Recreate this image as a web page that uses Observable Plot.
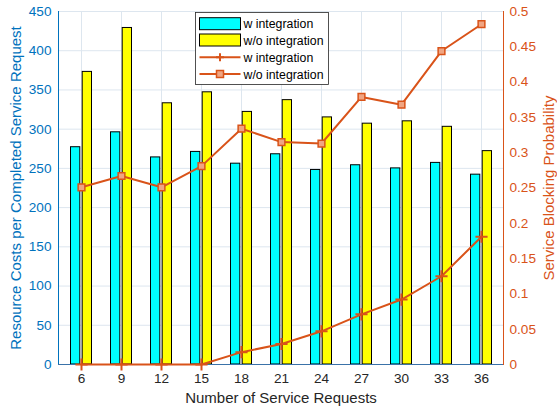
<!DOCTYPE html>
<html><head><meta charset="utf-8">
<script src="https://cdn.jsdelivr.net/npm/d3@7"></script>
<script src="https://cdn.jsdelivr.net/npm/@observablehq/plot@0.6"></script>
<style>
body{margin:0;background:#fff;}
#chart{position:relative;width:557px;height:407px;background:#fff;}
#chart svg{position:absolute;left:0;top:0;}
</style></head><body><div id="chart"></div>
<script>
// ---- data ----
const requests = [6, 9, 12, 15, 18, 21, 24, 27, 30, 33, 36];
const costWith = [277, 296, 264, 271, 256, 268, 248, 254, 250, 257, 242];
const costWithout = [373, 429, 333, 347, 322, 337, 315, 307, 310, 303, 272];
const blockWith = [0, 0, 0, 0, 0.0175, 0.029, 0.047, 0.071, 0.092, 0.125, 0.181];
const blockWithout = [0.251, 0.267, 0.251, 0.281, 0.334, 0.315, 0.313, 0.379, 0.368, 0.444, 0.482];
const leftTicks = [0, 50, 100, 150, 200, 250, 300, 350, 400, 450];
const rightTicks = [0, 0.05, 0.1, 0.15, 0.2, 0.25, 0.3, 0.35, 0.4, 0.45, 0.5];
const legendLabels = ["w integration", "w/o integration", "w integration", "w/o integration"];
const xLabel = "Number of Service Requests";
const yLeftLabel = "Resource Costs per Completed Service Request";
const yRightLabel = "Service Blocking Probability";

const BLUE = "#0072BD", ORANGE = "#D95319", DARK = "#262626", GRID = "#dde6ef";
const W = 557, H = 407;
const margins = {marginLeft: 58, marginRight: 54, marginTop: 11, marginBottom: 43};
const font = "'Liberation Sans', Arial, Helvetica, sans-serif";

const rows = requests.map((n, i) => ({n, cw: costWith[i], cwo: costWithout[i], bw: blockWith[i], bwo: blockWithout[i]}));

const p1 = Plot.plot({
  width: W, height: H, ...margins,
  style: {fontFamily: font, fontSize: "13.6px", background: "transparent", overflow: "visible"},
  x: {type: "band", domain: requests, padding: 0},
  y: {domain: [0, 450]},
  marks: [
    Plot.gridY(leftTicks, {stroke: GRID, strokeOpacity: 1}),
    Plot.gridX(requests, {stroke: GRID, strokeOpacity: 1}),
    Plot.rectY(rows, {x: "n", y1: 0, y2: "cw", fill: "#00FFFF", stroke: "#000", strokeWidth: 1, insetLeft: 9.5, insetRight: 21.2}),
    Plot.rectY(rows, {x: "n", y1: 0, y2: "cwo", fill: "#FFFF00", stroke: "#000", strokeWidth: 1, insetLeft: 21.2, insetRight: 9.5}),
    Plot.axisY(leftTicks, {anchor: "left", color: BLUE, tickSize: 0, tickPadding: 7, fontSize: 13.6, label: null}),
    Plot.axisX(requests, {anchor: "bottom", color: DARK, tickSize: 0, tickPadding: 9, fontSize: 13.6, label: null}),
    Plot.text([yLeftLabel], {frameAnchor: "left", textAnchor: "middle", lineAnchor: "middle", rotate: -90, dx: -42, fontSize: 15, fill: BLUE}),
    Plot.text([xLabel], {frameAnchor: "bottom", textAnchor: "middle", lineAnchor: "middle", dy: 34, fontSize: 15, fill: DARK}),
    Plot.frame({anchor: "left", stroke: BLUE}),
    Plot.frame({anchor: "bottom", stroke: "#3a72a8"})
  ]
});

const p2 = Plot.plot({
  width: W, height: H, ...margins,
  style: {fontFamily: font, fontSize: "13.6px", background: "transparent", overflow: "visible"},
  x: {type: "band", domain: requests, padding: 0, axis: null},
  y: {domain: [0, 0.5]},
  marks: [
    Plot.line(rows, {x: "n", y: "bw", stroke: ORANGE, strokeWidth: 2}),
    Plot.line(rows, {x: "n", y: "bwo", stroke: ORANGE, strokeWidth: 2}),
    Plot.dot(rows, {x: "n", y: "bw", symbol: "plus", stroke: ORANGE, strokeWidth: 2, r: 4}),
    Plot.dot(rows, {x: "n", y: "bwo", symbol: "square", stroke: ORANGE, fill: "#f0a582", strokeWidth: 1.5, r: 3.8}),
    Plot.axisY(rightTicks, {anchor: "right", color: ORANGE, tickSize: 0, tickPadding: 6, fontSize: 13.6,
      tickFormat: d => String(+d.toFixed(2)), label: null}),
    Plot.text([yRightLabel], {frameAnchor: "right", textAnchor: "middle", lineAnchor: "middle", rotate: -90, dx: 46, fontSize: 15, fill: ORANGE}),
    Plot.frame({anchor: "right", stroke: ORANGE})
  ]
});

const chart = document.getElementById("chart");
chart.appendChild(p1);
chart.appendChild(p2);

// legend
const svg = d3.select(p2);
const lg = svg.append("g").attr("font-family", font).attr("font-size", 12.3).attr("text-anchor", "start");
lg.append("rect").attr("x", 195.5).attr("y", 12.5).attr("width", 133).attr("height", 72)
  .attr("fill", "#fff").attr("stroke", DARK).attr("stroke-width", 0.8);
const swatchFill = ["#00FFFF", "#FFFF00"];
const rowY = [23.7, 40, 57.3, 74];
legendLabels.forEach((t, i) => {
  const cy = rowY[i];
  if (i < 2) {
    lg.append("rect").attr("x", 199.5).attr("y", cy - 6).attr("width", 41).attr("height", 12)
      .attr("fill", swatchFill[i]).attr("stroke", "#000");
  } else {
    lg.append("line").attr("x1", 199.5).attr("x2", 240.5).attr("y1", cy).attr("y2", cy)
      .attr("stroke", ORANGE).attr("stroke-width", 2);
    if (i === 2) {
      lg.append("path").attr("d", `M216,${cy}h8M220,${cy - 4}v8`).attr("stroke", ORANGE).attr("stroke-width", 2);
    } else {
      lg.append("rect").attr("x", 216.5).attr("y", cy - 3.5).attr("width", 7).attr("height", 7)
        .attr("fill", "#f0a582").attr("stroke", ORANGE).attr("stroke-width", 1.5);
    }
  }
  lg.append("text").attr("x", 243.5).attr("y", cy + 4.5).attr("fill", "#000").text(t);
});
</script></body></html>
